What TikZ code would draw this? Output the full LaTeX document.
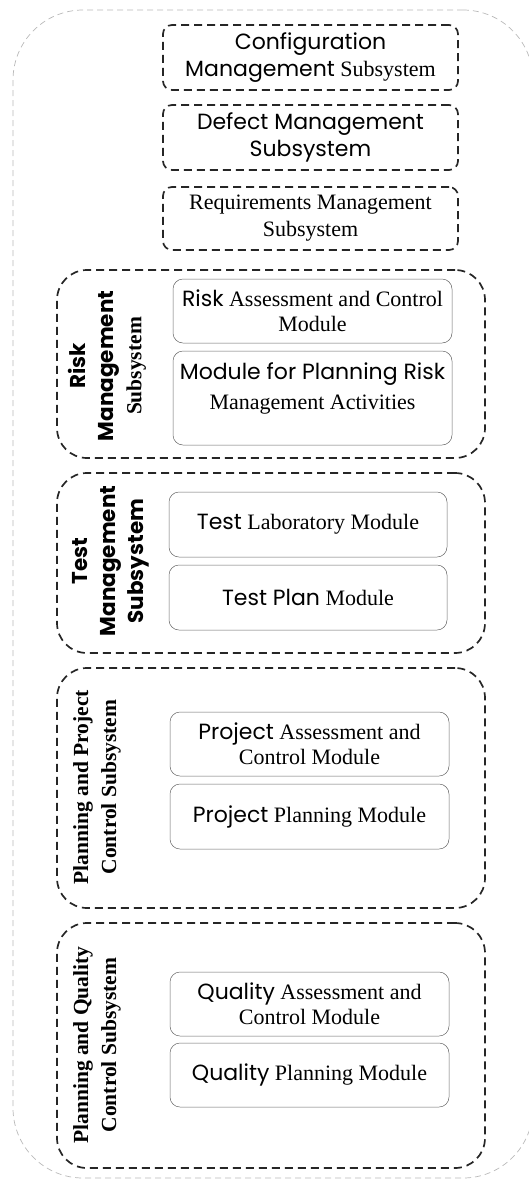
\documentclass[tikz,border=0pt]{standalone}
\usepackage{fontspec}
\setmainfont{Liberation Serif}
\newfontfamily\gothic{Poppins}
\begin{document}
\begin{tikzpicture}[x=1pt,y=-1pt,
  outerbox/.style={draw=gray!55, line width=0.7pt, dash pattern=on 6pt off 4pt, rounded corners=70pt, inner sep=0pt},
  subbox/.style={draw=black!85, line width=1.7pt, dash pattern=on 8pt off 5pt, rounded corners=9pt, align=center, inner sep=0pt, font=\fontsize{22}{27}\selectfont},
  bigbox/.style={draw=black!85, line width=1.7pt, dash pattern=on 8pt off 5pt, rounded corners=30pt, inner sep=0pt},
  modbox/.style={draw=black!60, line width=0.5pt, rounded corners=10pt, align=center, inner sep=0pt, font=\fontsize{22}{25}\selectfont},
  sidelabel/.style={rotate=90, align=center, font=\bfseries\fontsize{21.5}{28}\selectfont},
  txt/.style={align=center, inner sep=0pt, font=\fontsize{22}{30}\selectfont}]
\useasboundingbox (0,0) rectangle (528,1181);
% outer container
\node[outerbox, minimum width=520pt, minimum height=1168pt] (outer) at (273,594) {};
% top subsystems
\node[subbox, minimum width=295pt, minimum height=65pt] (cfg) at (310.5,57.5) {{\gothic Configuration}\\{\gothic Management} Subsystem};
\node[subbox, minimum width=295pt, minimum height=65pt] (def) at (310.5,137.5) {{\gothic Defect Management}\\{\gothic Subsystem}};
\node[subbox, minimum width=295pt, minimum height=63pt] (req) at (310.5,218.5) {Requirements Management\\Subsystem};
% risk
\node[bigbox, minimum width=428pt, minimum height=188pt] (risk) at (271,364) {};
\node[sidelabel] (risklbl) at (107,366) {{\gothic Risk}\\{\gothic Management}\\Subsystem};
\node[modbox, minimum width=279pt, minimum height=64pt] (ra) at (312.5,311) {{\gothic Risk} Assessment and Control\\Module};
\node[modbox, minimum width=279pt, minimum height=94pt] (rp) at (312.5,398) {};
\node[txt, anchor=north] (rptxt) at (312.5,362) {{\gothic Module for Planning Risk}\\Management Activities};
% test
\node[bigbox, minimum width=428pt, minimum height=180pt] (test) at (271,563) {};
\node[sidelabel] (testlbl) at (111,561) {{\gothic Test}\\{\gothic Management}\\{\gothic Subsystem}};
\node[modbox, minimum width=278pt, minimum height=65pt] (tl) at (308,524.5) {{\gothic Test} Laboratory Module};
\node[modbox, minimum width=278pt, minimum height=65pt] (tp) at (308,597.5) {{\gothic Test Plan} Module};
% project
\node[bigbox, minimum width=428pt, minimum height=240pt] (proj) at (271,788) {};
\node[sidelabel] (projlbl) at (97,787) {Planning and Project\\Control Subsystem};
\node[modbox, minimum width=279pt, minimum height=64pt] (pa) at (309.5,744) {{\gothic Project} Assessment and\\Control Module};
\node[modbox, minimum width=279pt, minimum height=65pt] (pp) at (309.5,816.5) {{\gothic Project} Planning Module};
% quality
\node[bigbox, minimum width=428pt, minimum height=245pt] (qual) at (271,1045.5) {};
\node[sidelabel] (quallbl) at (97,1045) {Planning and Quality\\Control Subsystem};
\node[modbox, minimum width=279pt, minimum height=64pt] (qa) at (309.5,1004) {{\gothic Quality} Assessment and\\Control Module};
\node[modbox, minimum width=279pt, minimum height=64pt] (qp) at (309.5,1075) {{\gothic Quality} Planning Module};
\end{tikzpicture}
\end{document}
